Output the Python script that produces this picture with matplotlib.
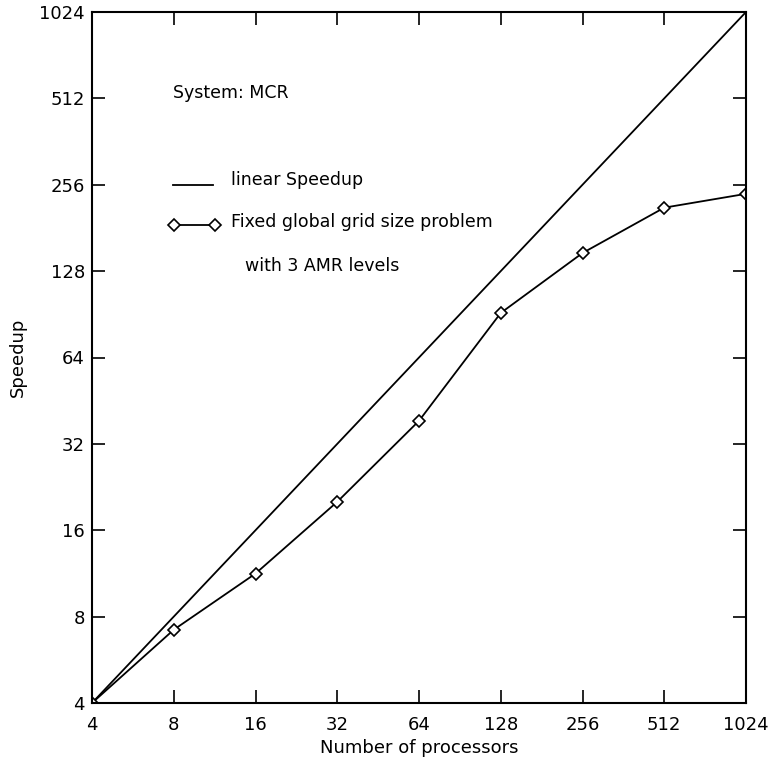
import matplotlib
matplotlib.use("Agg")
import matplotlib.pyplot as plt
from matplotlib.lines import Line2D

# processor counts and measured speedup (fixed global grid, 3 AMR levels)
procs = [4, 8, 16, 32, 64, 128, 256, 512, 1024]
speedup = [4, 7.2, 11.3, 20.1, 38.5, 91.5, 148, 213, 238]
ideal = procs
ticks = [4, 8, 16, 32, 64, 128, 256, 512, 1024]
tick_labels = [str(t) for t in ticks]

plt.rcParams['font.family'] = ['DejaVu Sans']

fig = plt.figure(figsize=(7.69, 7.60), dpi=100)
ax = fig.add_axes([92 / 769, 1 - 703 / 760, 654 / 769, 691 / 760])

ax.plot(procs, ideal, color='black', linewidth=1.3)
ax.plot(procs, speedup, color='black', linewidth=1.3, marker='D', markersize=6.5,
        markerfacecolor='white', markeredgecolor='black', markeredgewidth=1.2)

ax.set_xscale('log', base=2)
ax.set_yscale('log', base=2)
ax.set_xlim(4, 1024)
ax.set_ylim(4, 1024)
ax.set_xticks(ticks)
ax.set_xticklabels(tick_labels)
ax.set_yticks(ticks)
ax.set_yticklabels(tick_labels)
ax.minorticks_off()
ax.tick_params(direction='in', length=9.5, width=1.2, labelsize=13,
               top=True, right=True)
ax.tick_params(axis='x', pad=9)
ax.tick_params(axis='y', pad=5)
for s in ax.spines.values():
    s.set_linewidth(1.5)

ax.set_xlabel('Number of processors', fontsize=13, labelpad=4)
ax.set_ylabel('Speedup', fontsize=13, labelpad=9)

# annotations and hand-placed legend
tr = fig.transFigure
fs = 12.5
fig.text(173 / 769, 1 - 93 / 760, 'System: MCR', fontsize=fs, va='center', ha='left')
fig.add_artist(Line2D([173 / 769, 213 / 769], [1 - 185 / 760, 1 - 185 / 760],
                      transform=tr, color='black', linewidth=1.3))
fig.text(231 / 769, 1 - 180 / 760, 'linear Speedup', fontsize=fs, va='center', ha='left')
fig.add_artist(Line2D([174 / 769, 215 / 769], [1 - 225 / 760, 1 - 225 / 760],
                      transform=tr, color='black', linewidth=1.3, marker='D',
                      markersize=6.5, markerfacecolor='white', markeredgewidth=1.2))
fig.text(231 / 769, 1 - 222 / 760, 'Fixed global grid size problem', fontsize=fs,
         va='center', ha='left')
fig.text(245 / 769, 1 - 266 / 760, 'with 3 AMR levels', fontsize=fs, va='center', ha='left')

fig.savefig('out.png', dpi=100)
